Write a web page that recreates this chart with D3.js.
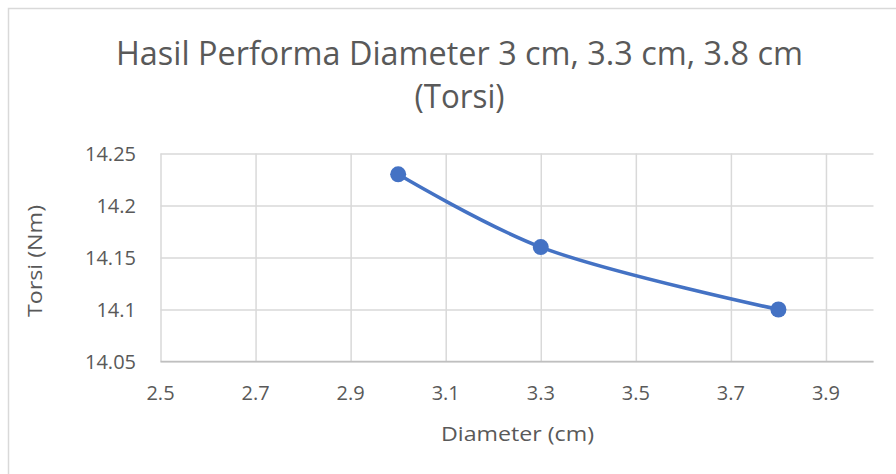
<!DOCTYPE html>
<html>
<head>
<meta charset="utf-8">
<script src="https://cdn.jsdelivr.net/npm/d3@7"></script>
<style>
  html, body { margin: 0; padding: 0; background: #fff; }
  svg { display: block; }
  text { font-family: "Open Sans", "Noto Sans", sans-serif; fill: #595959; }
</style>
</head>
<body>
<svg id="chart" width="896" height="474"></svg>
<script>
// Torque measured for each pipe diameter
const diameters = [3.0, 3.3, 3.8];
const torque = [14.23, 14.16, 14.1];

const xTicks = [2.5, 2.7, 2.9, 3.1, 3.3, 3.5, 3.7, 3.9];
const yTicks = [14.05, 14.1, 14.15, 14.2, 14.25];

const titleLines = ["Hasil Performa Diameter 3 cm, 3.3 cm, 3.8 cm", "(Torsi)"];
const xTitle = "Diameter (cm)";
const yTitle = "Torsi (Nm)";

const svg = d3.select("#chart");
const W = 896, H = 474;

// chart frame
svg.append("rect")
  .attr("x", 8.5).attr("y", 8.5)
  .attr("width", W + 10).attr("height", H + 10)
  .attr("fill", "#fff").attr("stroke", "#d9d9d9").attr("stroke-width", 1.5);

const plot = { left: 160.5, right: 873.5, top: 153.5, bottom: 361.5 };

const x = d3.scaleLinear().domain([2.5, 4.0]).range([plot.left, plot.right]);
const y = d3.scaleLinear().domain([14.05, 14.25]).range([plot.bottom, plot.top]);

// horizontal gridlines
svg.append("g")
  .attr("transform", `translate(${plot.left},0)`)
  .call(d3.axisLeft(y).tickValues(yTicks).tickSize(-(plot.right - plot.left)).tickFormat(""))
  .call(g => g.select(".domain").remove())
  .call(g => g.selectAll("line").attr("stroke", "#d9d9d9").attr("stroke-width", 1.5));

// vertical gridlines
svg.append("g")
  .attr("transform", `translate(0,${plot.bottom})`)
  .call(d3.axisBottom(x).tickValues(xTicks).tickSize(-(plot.bottom - plot.top)).tickFormat(""))
  .call(g => g.select(".domain").remove())
  .call(g => g.selectAll("line").attr("stroke", "#d9d9d9").attr("stroke-width", 1.5));

// x axis line
svg.append("line")
  .attr("x1", plot.left).attr("x2", plot.right)
  .attr("y1", plot.bottom).attr("y2", plot.bottom)
  .attr("stroke", "#bfbfbf").attr("stroke-width", 1.5);

// tick labels
const fmt = d => String(d);
svg.append("g").selectAll("text").data(yTicks).join("text")
  .attr("x", 136).attr("y", d => y(d))
  .attr("dy", "0.35em")
  .attr("text-anchor", "end")
  .attr("font-size", 20)
  .text(fmt);

svg.append("g").selectAll("text").data(xTicks).join("text")
  .attr("x", d => x(d)).attr("y", 400)
  .attr("text-anchor", "middle")
  .attr("font-size", 20)
  .text(fmt);

// fit a text element to a given width
function fit(sel, width) {
  const n = sel.node();
  const w = n.getComputedTextLength();
  if (Math.abs(w - width) > 1) {
    sel.attr("textLength", width).attr("lengthAdjust", "spacingAndGlyphs");
  }
  return sel;
}

// title
const t1 = svg.append("text").attr("x", 459.5).attr("y", 64.5)
  .attr("text-anchor", "middle").attr("font-size", 32).text(titleLines[0]);
fit(t1, 687);
const t2 = svg.append("text").attr("x", 459.5).attr("y", 107.5)
  .attr("text-anchor", "middle").attr("font-size", 32).text(titleLines[1]);
fit(t2, 90);

// axis titles
const xt = svg.append("text").attr("x", 517.5).attr("y", 441)
  .attr("text-anchor", "middle").attr("font-size", 20).text(xTitle);
fit(xt, 153);
const yt = svg.append("text")
  .attr("transform", `translate(42,261) rotate(-90)`)
  .attr("text-anchor", "middle").attr("font-size", 20).text(yTitle);
fit(yt, 112);

// series
const pts = diameters.map((d, i) => [d, torque[i]]);
const line = d3.line()
  .x(d => x(d[0])).y(d => y(d[1]))
  .curve(d3.curveCatmullRom.alpha(0.5));

svg.append("path")
  .datum(pts)
  .attr("d", line)
  .attr("fill", "none")
  .attr("stroke", "#4472c4")
  .attr("stroke-width", 3.5)
  .attr("stroke-linejoin", "round");

svg.append("g").selectAll("circle").data(pts).join("circle")
  .attr("cx", d => x(d[0])).attr("cy", d => y(d[1]))
  .attr("r", 8)
  .attr("fill", "#4472c4");
</script>
</body>
</html>
